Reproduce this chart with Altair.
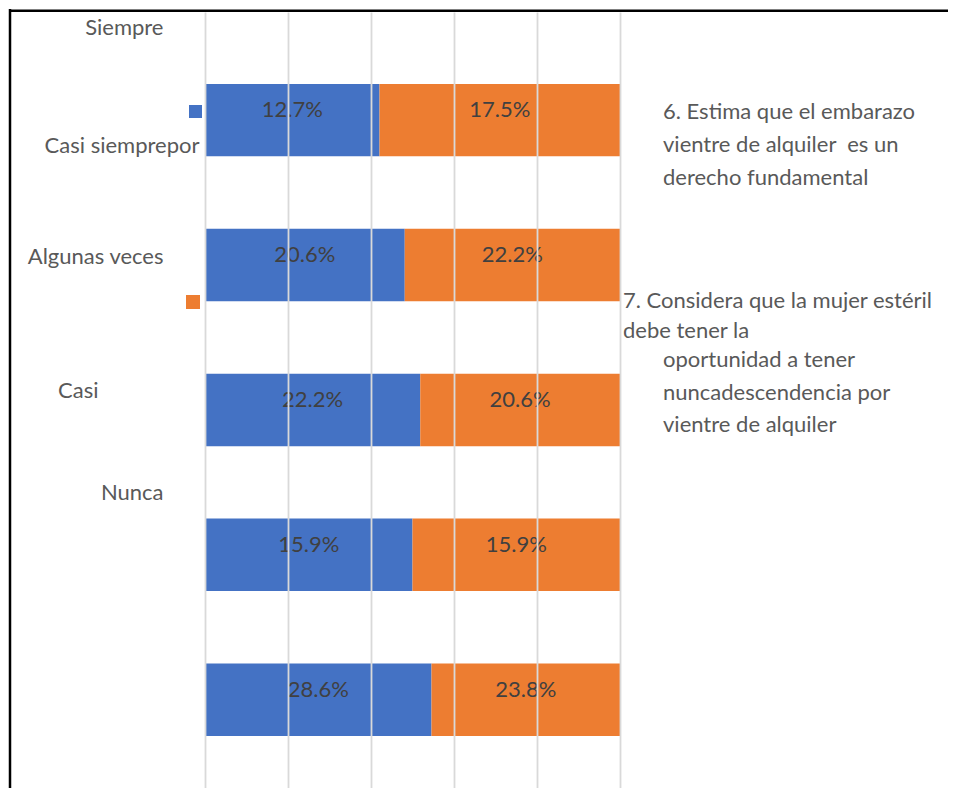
import altair as alt
import pandas as pd

# ---- data ----
categories = ["Siempre", "Casi siempre", "Algunas veces", "Casi nunca", "Nunca"]
shown_labels = ["Siempre", "Casi siemprepor", "Algunas veces", "Casi", "Nunca"]
series = ["P6", "P7"]
q6_values = [12.7, 20.6, 22.2, 15.9, 28.6]
q7_values = [17.5, 22.2, 20.6, 15.9, 23.8]
series_colors = ["#4472C4", "#ED7D31"]
legend_lines_6 = ["6. Estima que el embarazo", "vientre de alquiler\u00a0 es un", "derecho fundamental"]
legend_lines_7a = ["7. Considera que la mujer estéril", "debe tener la"]
legend_lines_7b = ["oportunidad a tener", "nuncadescendencia por", "vientre de alquiler"]

rows = []
for i, c in enumerate(categories):
    rows.append({"cat": c, "series": series[0], "order": 0, "value": q6_values[i]})
    rows.append({"cat": c, "series": series[1], "order": 1, "value": q7_values[i]})
df = pd.DataFrame(rows)

# ---- styling ----
FONT = "Lato"
W, H = 415, 776
label_expr = "datum.value"
for c, s in zip(categories, shown_labels):
    if c != s:
        label_expr = f"datum.value === '{c}' ? '{s}' : ({label_expr})"

offsets = dict(zip(categories, [-92.5, -119.4, -153.3, -164.2, -207]))
paddings = dict(zip(categories, [42, 6, 42, 107, 42]))
label_offset = {"condition": [{"test": f"datum.value === '{c}'", "value": v} for c, v in offsets.items()], "value": 0}
label_padding = {"condition": [{"test": f"datum.value === '{c}'", "value": v} for c, v in paddings.items()], "value": 0}

y_enc = alt.Y(
    "cat:N",
    sort=categories,
    title=None,
    scale=alt.Scale(paddingInner=0.5, paddingOuter=0.4277, align=0.58),
    axis=alt.Axis(
        labelExpr=label_expr,
        labelFont=FONT, labelFontSize=22, labelColor="#595959",
        labelOffset=label_offset, labelPadding=label_padding,
        labelLimit=0, labelAlign="right", labelBaseline="middle",
        ticks=False, tickSize=0, domain=False, grid=False,
    ),
)
x_axis = alt.Axis(values=[0, 0.2, 0.4, 0.6, 0.8, 1.0], grid=True, gridColor="#d9d9d9",
                  gridWidth=1.8, labels=False, ticks=False, domain=False, title=None, zindex=1)
x_scale = alt.Scale(domain=[0, 1], nice=False, zero=True)

base = alt.Chart(df).transform_stack(
    stack="value", groupby=["cat"], as_=["x0", "x1"], offset="normalize",
    sort=[alt.SortField("order", order="ascending")],
).transform_calculate(
    mid="(datum.x0 + datum.x1) / 2",
    label="format(datum.value, '.1f') + '%'",
).encode(y=y_enc)

bars = base.mark_bar().encode(
    x=alt.X("x0:Q", scale=x_scale, axis=x_axis),
    x2="x1:Q",
    color=alt.Color("series:N", scale=alt.Scale(domain=series, range=series_colors), legend=None),
)
texts = base.mark_text(font=FONT, fontSize=22, color="#404040", baseline="middle", dy=-10).encode(
    x=alt.X("mid:Q", scale=x_scale, axis=x_axis),
    text="label:N",
)

one = pd.DataFrame({"k": [0]})
legend_style = dict(font=FONT, fontSize=22, color="#595959", align="left", baseline="alphabetic")
leg6 = alt.Chart(one).mark_text(lineHeight=33, **legend_style).encode(
    x=alt.value(458), y=alt.value(106.5), text=alt.value(legend_lines_6))
leg7a = alt.Chart(one).mark_text(lineHeight=30, **legend_style).encode(
    x=alt.value(418), y=alt.value(296), text=alt.value(legend_lines_7a))
leg7b = alt.Chart(one).mark_text(lineHeight=32.5, **legend_style).encode(
    x=alt.value(458), y=alt.value(355), text=alt.value(legend_lines_7b))
sq6 = alt.Chart(one).mark_square(color=series_colors[0], size=169, opacity=1).encode(
    x=alt.value(-9.5), y=alt.value(99.5))
sq7 = alt.Chart(one).mark_square(color=series_colors[1], size=196, opacity=1).encode(
    x=alt.value(-12), y=alt.value(290))
border_left = alt.Chart(one).mark_rule(color="black", strokeWidth=2.5).encode(
    x=alt.value(-195), y=alt.value(-3), y2=alt.value(H))
border_top = alt.Chart(one).mark_rule(color="black", strokeWidth=2.5).encode(
    x=alt.value(-196), x2=alt.value(760), y=alt.value(-1.3))

chart = alt.layer(bars, texts, leg6, leg7a, leg7b, sq6, sq7, border_left, border_top).properties(
    width=W, height=H,
    padding={"left": 197, "top": 4, "right": 328, "bottom": 0},
    autosize=alt.AutoSizeParams(type="none"),
    background="white",
).configure_view(stroke=None)

chart.save("out.html", embed_options={"renderer": "svg", "actions": False})
